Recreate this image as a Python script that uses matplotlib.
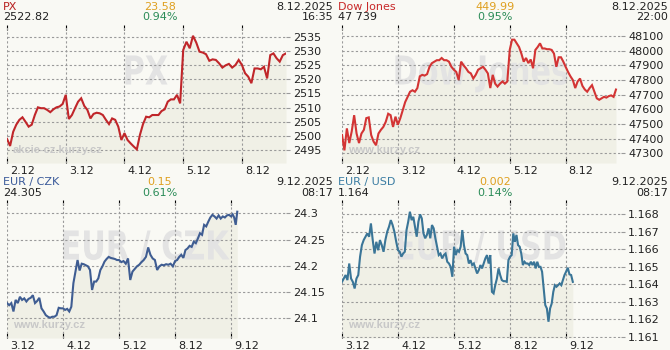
import numpy as np
import matplotlib
matplotlib.use("Agg")
from matplotlib import pyplot as plt
from matplotlib.transforms import ScaledTranslation, Affine2D
from matplotlib.textpath import TextPath
from matplotlib.font_manager import FontProperties
from matplotlib.patches import PathPatch

# ---- PX ----
px_days = ["2.12", "3.12", "4.12", "5.12", "8.12"]
px_vals = [
    [2499.0, 2496.5, 2501.5, 2504.0, 2505.7, 2506.6, 2505.0, 2503.3, 2504.0, 2507.4,
     2510.1, 2509.8, 2509.8, 2509.2, 2508.4, 2509.4, 2510.1, 2510.4, 2511.3],
    [2514.5, 2506.0, 2507.4, 2509.8, 2512.1, 2513.3, 2510.6, 2509.2, 2506.2, 2507.8,
     2508.2, 2508.0, 2507.4, 2505.7, 2504.2, 2506.2, 2505.7, 2503.3, 2498.6],
    [2501.0, 2498.6, 2497.4, 2496.3, 2495.3, 2500.4, 2504.2, 2506.8, 2506.6, 2507.4,
     2507.4, 2507.4, 2508.8, 2509.4, 2512.1, 2512.9, 2512.9, 2514.5, 2511.5],
    [2530.3, 2533.2, 2530.9, 2535.3, 2532.9, 2529.7, 2529.4, 2528.8, 2526.5, 2527.0,
     2526.8, 2525.6, 2524.1, 2524.9, 2525.4, 2524.1, 2525.0, 2526.8],
    [2525.0, 2522.1, 2520.9, 2518.6, 2523.8, 2523.8, 2523.5, 2524.4, 2520.3, 2528.5,
     2529.1, 2527.4, 2526.2, 2528.5, 2529.1],
]
px_last_frac = 0.75
px_yticks = [2495, 2500, 2505, 2510, 2515, 2520, 2525, 2530, 2535]
px_ylim = (2490.5, 2539.1)
px_xmax = 4.75

# ---- Dow Jones ----
dj_days = ["2.12", "3.12", "4.12", "5.12", "8.12"]
dj_vals = [
    [47425, 47320, 47470, 47370, 47450, 47560, 47435, 47370, 47435, 47460, 47540, 47545,
     47425, 47380, 47355, 47435, 47460, 47480, 47515, 47570, 47560, 47480, 47550],
    [47495, 47540, 47595, 47650, 47685, 47720, 47730, 47720, 47745, 47825, 47835, 47830,
     47840, 47890, 47915, 47925, 47935, 47935, 47950, 47935, 47935, 47925, 47890],
    [47870, 47855, 47800, 47925, 47900, 47880, 47855, 47845, 47810, 47835, 47870, 47880,
     47890, 47870, 47845, 47745, 47835, 47775, 47755, 47775, 47790, 47775, 47790],
    [48005, 48075, 48075, 48050, 48025, 47980, 47925, 47950, 47915, 47940, 47880, 48005,
     48025, 48050, 48015, 48015, 48010, 48010, 48005, 47980, 47890, 47955, 47955, 47925],
    [47890, 47855, 47825, 47800, 47745, 47790, 47810, 47760, 47735, 47720, 47745, 47765,
     47720, 47675, 47665, 47675, 47685, 47680, 47690, 47695, 47685, 47735],
]
dj_last_frac = 0.9
dj_yticks = [47300, 47400, 47500, 47600, 47700, 47800, 47900, 48000, 48100]
dj_ylim = (47234, 48175)
dj_xmax = 4.99

# ---- EUR / CZK ----
czk_days = ["3.12", "4.12", "5.12", "8.12", "9.12"]
czk_vals = [
    [24.129, 24.125, 24.129, 24.113, 24.135, 24.129, 24.141, 24.135, 24.138, 24.132,
     24.137, 24.139, 24.144, 24.129, 24.133, 24.139, 24.119, 24.113, 24.106, 24.103,
     24.101, 24.103, 24.103, 24.106, 24.120, 24.119],
    [24.119, 24.116, 24.118, 24.113, 24.122, 24.167, 24.189, 24.211, 24.191, 24.204,
     24.203, 24.201, 24.199, 24.192, 24.154, 24.170, 24.170, 24.176, 24.192, 24.199,
     24.208, 24.213, 24.217, 24.215, 24.214, 24.213, 24.211],
    [24.211, 24.207, 24.209, 24.204, 24.214, 24.173, 24.189, 24.194, 24.199, 24.202,
     24.207, 24.211, 24.217, 24.235, 24.221, 24.214, 24.211, 24.192, 24.199, 24.202,
     24.201, 24.203, 24.202, 24.204, 24.199],
    [24.209, 24.211, 24.217, 24.221, 24.215, 24.230, 24.233, 24.238, 24.236, 24.246,
     24.243, 24.252, 24.262, 24.259, 24.278, 24.275, 24.284, 24.292, 24.297, 24.294,
     24.290, 24.296, 24.290, 24.294, 24.292, 24.296, 24.297],
    [24.294, 24.298, 24.292, 24.278, 24.303],
]
czk_last_frac = 0.11
czk_yticks = [24.1, 24.15, 24.2, 24.25, 24.3]
czk_ylim = (24.0625, 24.3253)
czk_xmax = 4.98

# ---- EUR / USD ----
usd_days = ["3.12", "4.12", "5.12", "8.12", "9.12"]
usd_vals = [
    [1.16414, 1.16433, 1.16453, 1.16424, 1.16519, 1.16433, 1.16414, 1.16376, 1.16433,
     1.16453, 1.16558, 1.16624, 1.16653, 1.16672, 1.16691, 1.16672, 1.16748, 1.16653,
     1.16576, 1.16643, 1.16595, 1.16653, 1.16624, 1.16586, 1.16653, 1.16700, 1.16729,
     1.16767, 1.16739, 1.16700, 1.16643],
    [1.16595, 1.16586, 1.16558, 1.16576, 1.16586, 1.16710, 1.16758, 1.16815, 1.16767,
     1.16786, 1.16729, 1.16672, 1.16758, 1.16800, 1.16777, 1.16691, 1.16663, 1.16682,
     1.16720, 1.16663, 1.16739, 1.16720, 1.16663, 1.16615, 1.16567, 1.16576, 1.16548,
     1.16567, 1.16576, 1.16529, 1.16519, 1.16500, 1.16443],
    [1.16615, 1.16567, 1.16595, 1.16586, 1.16615, 1.16710, 1.16624, 1.16576, 1.16567,
     1.16519, 1.16538, 1.16510, 1.16519, 1.16491, 1.16462, 1.16481, 1.16510, 1.16491,
     1.16519, 1.16548, 1.16567, 1.16519, 1.16567, 1.16357, 1.16348, 1.16395, 1.16433,
     1.16491, 1.16453, 1.16424, 1.16418, 1.16418, 1.16414, 1.16538],
    [1.16558, 1.16567, 1.16691, 1.16643, 1.16682, 1.16624, 1.16615, 1.16576, 1.16510,
     1.16529, 1.16519, 1.16519, 1.16510, 1.16529, 1.16510, 1.16529, 1.16491, 1.16529,
     1.16500, 1.16500, 1.16472, 1.16376, 1.16281, 1.16262, 1.16186, 1.16262, 1.16290,
     1.16357, 1.16395, 1.16386, 1.16395, 1.16405, 1.16395, 1.16424, 1.16453],
    [1.16472, 1.16495, 1.16457, 1.16453, 1.16414],
]
usd_last_frac = 0.12
usd_yticks = [1.161, 1.162, 1.163, 1.164, 1.165, 1.166, 1.167, 1.168]
usd_ylim = (1.16093, 1.16882)
usd_xmax = 4.98

# header texts: title, last, change, pct, date, time
panels = [
    dict(title="PX", last="2522.82", chg="23.58", pct="0.94%", date="8.12.2025", time="16:35",
         days=px_days, vals=px_vals, frac=px_last_frac, yticks=px_yticks,
         ylabels=[str(v) for v in px_yticks], ylim=px_ylim, xmax=px_xmax,
         color="#c0262a", tcolor="#b8201f", mark="PX", site="akcie-cz.kurzy.cz"),
    dict(title="Dow Jones", last="47 739", chg="449.99", pct="0.95%", date="8.12.2025", time="22:00",
         days=dj_days, vals=dj_vals, frac=dj_last_frac, yticks=dj_yticks,
         ylabels=[str(v) for v in dj_yticks], ylim=dj_ylim, xmax=dj_xmax,
         color="#d33434", tcolor="#c82828", mark="Dow Jones", site="www.kurzy.cz"),
    dict(title="EUR / CZK", last="24.305", chg="0.15", pct="0.61%", date="9.12.2025", time="08:17",
         days=czk_days, vals=czk_vals, frac=czk_last_frac, yticks=czk_yticks,
         ylabels=["24.1", "24.15", "24.2", "24.25", "24.3"], ylim=czk_ylim, xmax=czk_xmax,
         color="#3f5d92", tcolor="#3a5a9a", mark="EUR / CZK", site="www.kurzy.cz"),
    dict(title="EUR / USD", last="1.164", chg="0.002", pct="0.14%", date="9.12.2025", time="08:17",
         days=usd_days, vals=usd_vals, frac=usd_last_frac, yticks=usd_yticks,
         ylabels=["%.3f" % v for v in usd_yticks], ylim=usd_ylim, xmax=usd_xmax,
         color="#3a7597", tcolor="#3a7ca2", mark="EUR / USD", site="www.kurzy.cz"),
]

W, H = 670, 350
BG = "#f9f9f4"
FILL = "#f0f0e6"
GRID = "#9a9a9a"
TXT = "#222222"

fig = plt.figure(figsize=(W / 100, H / 100), dpi=100, facecolor=BG)


def fx(px):
    return px / W


def fy(py):
    return 1 - py / H


def day_x(vals, frac):
    xs = []
    for k, day in enumerate(vals):
        n = len(day)
        if k == len(vals) - 1:
            xs.append(k + frac * np.arange(n) / (n - 1))
        else:
            xs.append(k + np.arange(n) / n)
    return np.concatenate(xs), np.concatenate([np.array(d, float) for d in vals])


def watermark(ax, s, cx, cy):
    # narrow, tall bold text drawn as a path (pixel coords, origin bottom-left)
    size = 40
    tp = TextPath((0, 0), s, size=size, prop=FontProperties(family="DejaVu Sans", weight="bold"))
    bb = tp.get_extents()
    cap = 0.729 * size
    sy = 29 / cap
    sx = 0.76 * sy
    tr = (Affine2D().translate(-(bb.x0 + bb.x1) / 2, -cap / 2)
          .scale(sx, sy).translate(cx, H - cy))
    patch = PathPatch(tp, transform=tr, facecolor="#e3e3e3", lw=0, zorder=1.5)
    ax.add_artist(patch)


for i, p in enumerate(panels):
    ox = 335 * (i % 2)
    oy = 175 * (i // 2)
    ax = fig.add_axes([fx(ox + 7), fy(oy + 163), fx(279), 138 / H])
    ax.set_facecolor(BG)

    x, y = day_x(p["vals"], p["frac"])
    ax.fill_between(x, y, p["ylim"][0], color=FILL, lw=0, zorder=1)
    ax.plot(x, y, color=p["color"], lw=1.5, zorder=3, solid_joinstyle="miter")

    ax.set_xlim(0, p["xmax"])
    ax.set_ylim(*p["ylim"])
    for s in ax.spines.values():
        s.set_visible(False)

    # grid
    for k in range(len(p["days"])):
        ax.axvline(k, color=GRID, lw=0.8, ls=(0, (2, 2)), zorder=2)
    for v in p["yticks"]:
        ax.axhline(v, color=GRID, lw=0.8, ls=(0, (2, 2)), zorder=2)

    ax.set_xticks(range(len(p["days"])))
    ax.set_xticklabels(p["days"], fontsize=8, color=TXT)
    ax.tick_params(axis="x", direction="in", length=3.5, width=0.8, color="black",
                   top=True, bottom=True, pad=2)
    for lbl in ax.get_xticklabels():
        lbl.set_horizontalalignment("left")
        lbl.set_transform(lbl.get_transform() + ScaledTranslation(0.03, 0, fig.dpi_scale_trans))

    ax.yaxis.tick_right()
    ax.set_yticks(p["yticks"])
    ax.set_yticklabels(p["ylabels"], fontsize=8, color=TXT)
    ax.tick_params(axis="y", direction="out", length=3, width=0.8, color=GRID, pad=2)

    # watermarks
    watermark(ax, p["mark"], ox + 7 + 279 / 2, oy + 70)
    ax.text(0.02, 0.076, p["site"], transform=ax.transAxes, ha="left", va="baseline",
            fontsize=8, fontweight="bold", color="#c8c8c8", zorder=2.5,
            family=["Liberation Sans", "DejaVu Sans"])

    # header
    fig.text(fx(ox + 3), fy(oy + 10.5), p["title"], color=p["tcolor"], fontsize=8, va="baseline")
    fig.text(fx(ox + 3), fy(oy + 20.5), p["last"], color=TXT, fontsize=8, va="baseline")
    fig.text(fx(ox + 160), fy(oy + 10), p["chg"], color="#dfa020", fontsize=8,
             ha="center", va="baseline")
    fig.text(fx(ox + 160), fy(oy + 20.5), p["pct"], color="#2b8c58", fontsize=8,
             ha="center", va="baseline")
    fig.text(fx(ox + 333), fy(oy + 10), p["date"], color=TXT, fontsize=8,
             ha="right", va="baseline")
    fig.text(fx(ox + 333), fy(oy + 20.5), p["time"], color=TXT, fontsize=8,
             ha="right", va="baseline")

plt.savefig("out.png", dpi=100, facecolor=BG)
